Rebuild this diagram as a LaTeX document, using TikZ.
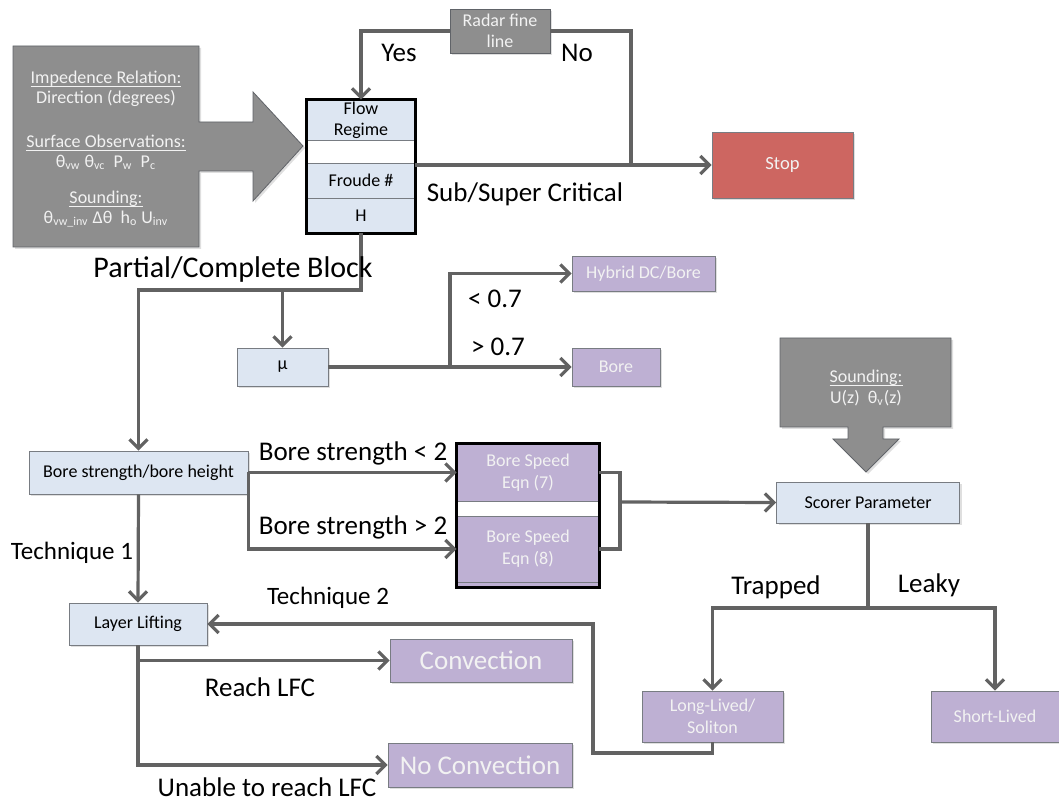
\documentclass[tikz,border=0pt]{standalone}
\usepackage{fontspec}
\setmainfont{Carlito}
\usetikzlibrary{positioning,arrows.meta,shadows}
\definecolor{lnGray}{RGB}{98,98,98}
\definecolor{boxBlue}{RGB}{221,230,242}
\definecolor{boxPurple}{RGB}{190,176,211}
\definecolor{boxRed}{RGB}{205,102,97}
\definecolor{boxGray}{RGB}{142,142,142}
\definecolor{edgeGray}{RGB}{120,124,130}
\definecolor{txtLight}{RGB}{242,242,242}
\newcommand{\ulText}[1]{\setbox0\hbox{#1}\rlap{\rule[-1.6pt]{\wd0}{0.45pt}}\box0}

\begin{document}
\begin{tikzpicture}[x=0.5pt, y=-0.5pt,
    shade/.style={drop shadow={shadow xshift=1pt, shadow yshift=-1pt, opacity=0.25}},
    bluebox/.style={draw=edgeGray, fill=boxBlue, inner sep=0pt, shade,
      font=\fontsize{9}{10.5}\selectfont, align=center},
    purplebox/.style={draw=edgeGray, fill=boxPurple, inner sep=0pt, shade,
      text=txtLight, font=\fontsize{9}{11}\selectfont, align=center},
    graybox/.style={draw=edgeGray!80!black, fill=boxGray, shade, text=txtLight},
    cell/.style={draw=edgeGray, fill=boxBlue, inner sep=0pt, minimum width=54pt,
      font=\fontsize{9}{10.5}\selectfont, align=center},
    pcell/.style={cell, fill=boxPurple, minimum width=71pt, text=txtLight,
      font=\fontsize{9}{11}\selectfont},
    frame/.style={draw=black, line width=1.5pt},
    ln/.style={draw=lnGray, line width=1.6pt},
    arr/.style={ln, -{Straight Barb[length=4.5pt, width=9pt]}},
    lbl/.style={font=\fontsize{13.5}{15}\selectfont}]
  %.
  \useasboundingbox (0,0) rectangle (1059,801);
  %.
  % input callouts
  \path[graybox] (13,46) -- (199,46) -- (199,122) -- (253,122) -- (253,92)
    -- (303,146) -- (253,201) -- (253,171) -- (199,171) -- (199,247)
    -- (13,247) -- cycle;
  \node[text=txtLight, align=center, font=\fontsize{9}{10}\selectfont] (imp) at (106,149)
    {\ulText{Impedence Relation:}\\Direction (degrees)\\[12pt]
     \ulText{Surface Observations:}\\
     θ\textsubscript{vw} θ\textsubscript{vc}~~P\textsubscript{w}~~P\textsubscript{c}\\[8pt]
     \ulText{Sounding:}\\
     θ\textsubscript{vw\_inv} Δθ~~h\textsubscript{o} U\textsubscript{inv}};
  \path[graybox] (780,338) -- (951,338) -- (951,427) -- (883,427) -- (883,439)
    -- (899,439) -- (866,472) -- (833,439) -- (848,439) -- (848,427)
    -- (780,427) -- cycle;
  \node[text=txtLight, align=center, font=\fontsize{9}{10.5}\selectfont] (snd) at (866,388)
    {\ulText{Sounding:}\\U(z)~~θ\textsubscript{v}(z)};
  %.
  % flow regime stack
  \node[cell, minimum height=20pt] (flow) at (361,120) {Flow\\Regime};
  \node[cell, fill=white, minimum height=11.5pt] (gapA) at (361,151.5) {};
  \node[cell, minimum height=17.5pt] (froude) at (361,180.5) {Froude \#};
  \node[cell, minimum height=17.5pt] (hgt) at (361,215.5) {H};
  \draw[frame] (flow.north west) rectangle (hgt.south east);
  %.
  \node[graybox, minimum width=50pt, minimum height=22pt, inner sep=0pt, align=center,
    font=\fontsize{9}{10.5}\selectfont] (radar) at (500,31) {Radar fine\\line};
  \node[purplebox, fill=boxRed, minimum width=70.5pt, minimum height=33pt,
    font=\fontsize{9.3}{11}\selectfont] (stop) at (782.5,165) {Stop};
  \node[bluebox, minimum width=45.5pt, minimum height=19pt] (mu) at (282.5,367) {μ};
  \node[purplebox, minimum width=71.5pt, minimum height=17.5pt] (hybrid) at (643.5,273.5) {Hybrid DC/Bore};
  \node[purplebox, minimum width=44pt, minimum height=19pt] (bore) at (616,367) {Bore};
  \node[bluebox, minimum width=109.5pt, minimum height=21.5pt] (bsh) at (138.5,472.5) {Bore strength/bore height};
  %.
  % bore speed stack
  \node[pcell, minimum height=28.5pt] (eqnA) at (528,472.5) {Bore Speed\\Eqn (7)};
  \node[cell, fill=white, minimum width=71pt, minimum height=7.5pt] (gapB) at (528,508.5) {};
  \node[pcell, minimum height=33pt] (eqnB) at (528,549) {Bore Speed\\Eqn (8)};
  \node[pcell, minimum height=2.5pt] (eqnFoot) at (528,584.5) {};
  \draw[frame] (eqnA.north west) rectangle (eqnFoot.south east);
  %.
  \node[bluebox, minimum width=91.5pt, minimum height=20.5pt] (scorer) at (868,502.5) {Scorer Parameter};
  \node[purplebox, minimum width=70.5pt, minimum height=25.5pt] (long) at (712.5,716.5) {Long-Lived/\\Soliton};
  \node[purplebox, minimum width=64pt, minimum height=25.5pt] (short) at (995,716.5) {Short-Lived};
  \node[bluebox, minimum width=69pt, minimum height=21pt] (lift) at (138,624) {Layer Lifting};
  \node[purplebox, minimum width=91pt, minimum height=21.5pt,
    font=\fontsize{13.5}{15}\selectfont] (conv) at (481,660.5) {Convection};
  \node[purplebox, minimum width=92pt, minimum height=22pt,
    font=\fontsize{13.5}{15}\selectfont] (noconv) at (480,765) {No Convection};
  %.
  % connectors
  \coordinate (noJoin) at (631,165);
  \coordinate (pcb) at (361,290);
  \coordinate (muJoin) at (450,367);
  \coordinate (brk) at (620,502);
  \coordinate (split) at (868,608);
  \coordinate (back) at (593,753);
  \draw[arr] (radar.west) -| (flow.north);
  \draw[ln] (radar.east) -| (noJoin);
  \draw[arr] (stop.west -| froude.east) -- (stop.west);
  \draw[arr] (hgt.south) -- (pcb) -| (bsh.north);
  \draw[arr] (pcb -| mu.north) -- (mu.north);
  \draw[arr] (mu.east) -- (bore.west);
  \draw[arr] (muJoin) |- (hybrid.west);
  \draw[arr] (bsh.east) -- (eqnA.west);
  \draw[arr] (bsh.east) |- (eqnB.west);
  \draw[ln] (eqnA.east) -| (brk) |- (eqnB.east);
  \draw[arr] (brk) -- (scorer.west);
  \draw[ln] (scorer.south) -- (split);
  \draw[arr] (split) -| (long.north);
  \draw[arr] (split) -| (short.north);
  \draw[arr] (long.south) |- (back) |- (lift.east);
  \draw[arr] (bsh.south) -- (lift.north);
  \draw[arr] (lift.south) |- (conv.west);
  \draw[arr] (lift.south) |- (noconv.west);
  %.
  % labels
  \node[lbl] (yes) at (399,53) {Yes};
  \node[lbl] (no) at (577,53) {No};
  \node[lbl] (crit) at (525,194) {Sub/Super Critical};
  \node[lbl, font=\fontsize{15}{17}\selectfont] (block) at (233,270) {Partial/Complete Block};
  \node[lbl] (lt) at (495,299) {< 0.7};
  \node[lbl] (gt) at (498,347) {> 0.7};
  \node[lbl] (bsLt) at (353,453) {Bore strength < 2};
  \node[lbl] (bsGt) at (353,527) {Bore strength > 2};
  \node[lbl, font=\fontsize{12.5}{14}\selectfont] (techA) at (72,553) {Technique 1};
  \node[lbl, font=\fontsize{12.5}{14}\selectfont] (techB) at (328,598) {Technique 2};
  \node[lbl] (reach) at (260,687) {Reach LFC};
  \node[lbl] (unable) at (267,787) {Unable to reach LFC};
  \node[lbl] (trap) at (776,587) {Trapped};
  \node[lbl] (leaky) at (929,585) {Leaky};
  %.
\end{tikzpicture}
\end{document}
